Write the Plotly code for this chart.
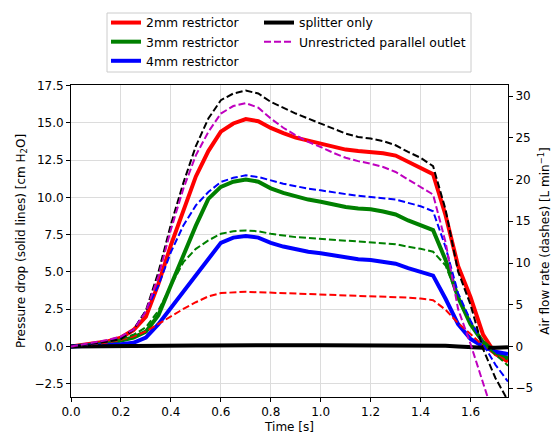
import plotly.graph_objects as go

# ---------------- data ----------------
time_s = [0.0, 0.05, 0.1, 0.15, 0.2, 0.25, 0.3, 0.35, 0.4, 0.45, 0.5, 0.55, 0.6, 0.65,
          0.7, 0.75, 0.8, 0.85, 0.9, 0.95, 1.0, 1.05, 1.1, 1.15, 1.2, 1.25, 1.3, 1.35,
          1.4, 1.45, 1.5, 1.55, 1.6, 1.65, 1.7, 1.75]

# pressure drop (cm H2O), left axis, solid lines
dp_2mm = [0.0, 0.1, 0.2, 0.35, 0.6, 1.1, 2.0, 4.2, 6.8, 9.2, 11.4, 13.1, 14.4, 14.95,
          15.25, 15.1, 14.65, 14.3, 14.0, 13.8, 13.6, 13.4, 13.2, 13.1, 13.05, 12.95, 12.8, 12.4,
          12.0, 11.55, 8.8, 5.4, 3.3, 0.8, -0.5, -1.0]
dp_3mm = [0.0, 0.05, 0.1, 0.2, 0.4, 0.6, 1.0, 2.1, 4.1, 6.1, 8.1, 9.9, 10.7, 11.05,
          11.2, 11.05, 10.6, 10.3, 10.05, 9.85, 9.7, 9.5, 9.35, 9.25, 9.2, 9.05, 8.85, 8.45,
          8.1, 7.8, 5.8, 3.3, 1.5, 0.3, -0.4, -0.8]
dp_4mm = [0.0, 0.03, 0.06, 0.1, 0.15, 0.25, 0.6, 1.5, 2.6, 3.7, 4.8, 5.9, 6.95, 7.3,
          7.4, 7.3, 6.95, 6.7, 6.5, 6.35, 6.25, 6.1, 5.95, 5.85, 5.8, 5.7, 5.55, 5.25,
          5.0, 4.75, 3.2, 1.5, 0.5, 0.0, -0.35, -0.5]
dp_splitter = [0.0, 0.0, 0.0, 0.0, 0.01, 0.02, 0.03, 0.03, 0.04, 0.05, 0.06, 0.07, 0.08, 0.09,
               0.1, 0.1, 0.1, 0.1, 0.09, 0.09, 0.09, 0.09, 0.09, 0.09, 0.08, 0.08, 0.08, 0.08,
               0.08, 0.08, 0.05, 0.0, -0.05, -0.08, -0.08, -0.05]

# air flow rate (L/min), right axis, dashed lines
q_2mm = [0.0, 0.15, 0.3, 0.5, 0.8, 1.2, 1.8, 2.7, 3.7, 4.5, 5.3, 6.0, 6.4, 6.5,
         6.55, 6.5, 6.45, 6.4, 6.35, 6.3, 6.25, 6.2, 6.15, 6.1, 6.05, 6.0, 5.95, 5.85,
         5.75, 5.55, 4.4, 2.8, 1.5, 0.1, -1.0, -1.7]
q_3mm = [0.0, 0.2, 0.35, 0.6, 0.9, 1.4, 2.3, 4.3, 7.3, 10.1, 11.7, 12.7, 13.5, 13.8,
         13.9, 13.8, 13.5, 13.3, 13.1, 13.0, 12.9, 12.75, 12.65, 12.55, 12.5, 12.4, 12.25, 11.95,
         11.7, 11.35, 9.7, 5.9, 2.7, 0.4, -1.0, -2.3]
q_4mm = [0.0, 0.2, 0.4, 0.7, 1.1, 2.0, 4.3, 7.3, 11.3, 14.5, 16.9, 18.5, 19.7, 20.2,
         20.5, 20.3, 19.9, 19.5, 19.2, 18.9, 18.7, 18.45, 18.25, 18.05, 17.9, 17.8, 17.6, 17.2,
         16.8, 16.2, 11.9, 6.4, 3.1, 0.3, -2.2, -4.2]
q_splitter = [0.0, 0.2, 0.4, 0.6, 0.9, 2.0, 4.3, 8.9, 14.6, 19.6, 24.0, 27.3, 29.5, 30.3,
              30.65, 30.3, 29.3, 28.6, 27.9, 27.3, 26.7, 26.1, 25.5, 25.1, 24.9, 24.6, 24.1, 23.3,
              22.6, 21.6, 16.4, 9.0, 5.0, -0.3, -3.8, -6.5]
q_unrestricted = [0.0, 0.25, 0.5, 0.8, 1.2, 2.0, 4.2, 8.4, 14.0, 18.9, 22.9, 25.7, 27.9, 28.8,
                  29.15, 28.6, 27.3, 26.2, 25.3, 24.5, 23.9, 23.2, 22.6, 22.2, 21.9, 21.5, 20.9, 20.0,
                  19.2, 18.2, 12.5, 4.5, 0.3, -4.5, -9.0, -13.0]

names = ["2mm restrictor", "3mm restrictor", "4mm restrictor", "splitter only",
         "Unrestricted parallel outlet"]
colors = ["#ff0000", "#008000", "#0000ff", "#000000", "#bf00bf"]

FONT = "DejaVu Sans"
SOLID_W = 4
DASH_W = 2
DASH = "7px,3px"

fig = go.Figure()

# solid pressure-drop lines (left axis)
for yv, nm, col, lg in [(dp_2mm, names[0], colors[0], "legend"),
                        (dp_3mm, names[1], colors[1], "legend"),
                        (dp_4mm, names[2], colors[2], "legend"),
                        (dp_splitter, names[3], colors[3], "legend2")]:
    fig.add_trace(go.Scatter(x=time_s, y=yv, mode="lines", name=nm,
                             line=dict(color=col, width=SOLID_W),
                             yaxis="y", legend=lg, showlegend=True))

# dashed flow lines (right axis)
for yv, col in [(q_2mm, colors[0]), (q_3mm, colors[1]), (q_4mm, colors[2]),
                (q_splitter, colors[3])]:
    fig.add_trace(go.Scatter(x=time_s, y=yv, mode="lines", showlegend=False,
                             line=dict(color=col, width=DASH_W, dash=DASH),
                             yaxis="y2"))
fig.add_trace(go.Scatter(x=time_s, y=q_unrestricted, mode="lines", name=names[4],
                         line=dict(color=colors[4], width=DASH_W, dash=DASH),
                         yaxis="y2", legend="legend2", showlegend=True))

ML, MR, MT, MB = 71, 44, 85, 37
W, H = 552, 434
pw, ph = W - ML - MR, H - MT - MB


def px2x(px):
    return (px - ML) / pw


def py2y(py):
    return (H - MB - py) / ph


axis_common = dict(showline=True, linecolor="black", linewidth=1, ticks="outside",
                   ticklen=4, tickwidth=1, tickcolor="black", zeroline=False,
                   automargin=False,
                   tickfont=dict(family=FONT, size=12, color="#000000"))

fig.update_layout(
    width=W, height=H,
    margin=dict(l=ML, r=MR, t=MT, b=MB, pad=0, autoexpand=False),
    paper_bgcolor="white", plot_bgcolor="white",
    font=dict(family=FONT, size=12, color="#000000"),
    xaxis=dict(range=[0, 1.75], dtick=0.2, tick0=0, tickformat=".1f",
               showgrid=True, gridcolor="#dcdcdc", gridwidth=1, mirror=True,
               title=dict(text="Time [s]", font=dict(family=FONT, size=12), standoff=5),
               **axis_common),
    yaxis=dict(range=[-3.385, 17.53], dtick=2.5, tick0=0, tickformat=".1f",
               showgrid=True, gridcolor="#dcdcdc", gridwidth=1, mirror=True,
               title=dict(text="Pressure drop (solid lines) [cm H<sub>2</sub>O]",
                          font=dict(family=FONT, size=12), standoff=6),
               **axis_common),
    yaxis2=dict(range=[-6.05, 31.32], dtick=5, tick0=0, overlaying="y", side="right",
                showgrid=False,
                title=dict(text="Air flow rate (dashes) [L min<sup>\u22121</sup>]",
                           font=dict(family=FONT, size=12), standoff=10),
                **axis_common),
    legend=dict(x=px2x(106), y=py2y(8), xanchor="left", yanchor="top",
                orientation="v", bgcolor="rgba(0,0,0,0)", borderwidth=0,
                tracegroupgap=0, font=dict(family=FONT, size=12.4)),
    legend2=dict(x=px2x(259), y=py2y(8), xanchor="left", yanchor="top",
                 orientation="v", bgcolor="rgba(0,0,0,0)", borderwidth=0,
                 tracegroupgap=0, font=dict(family=FONT, size=12.4)),
    shapes=[dict(type="rect", xref="paper", yref="paper",
                 x0=px2x(107), x1=px2x(471), y0=py2y(72), y1=py2y(13),
                 line=dict(color="#cccccc", width=1), fillcolor="white", layer="below")],
    showlegend=True,
)

fig.write_html("out.html")
